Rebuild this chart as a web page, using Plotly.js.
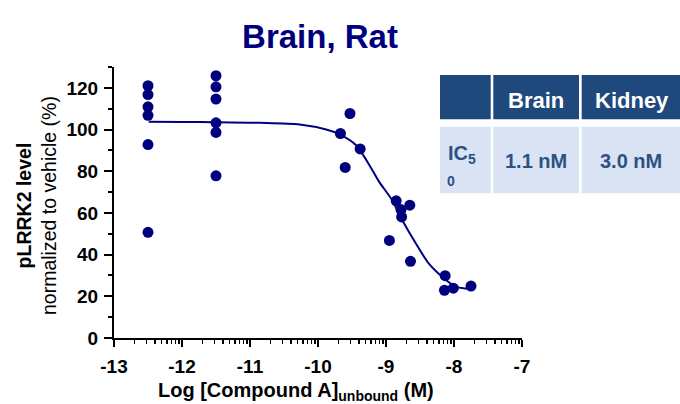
<!DOCTYPE html>
<html>
<head>
<meta charset="utf-8">
<script src="https://cdn.plot.ly/plotly-3.0.1.min.js"></script>
<style>html,body{margin:0;padding:0;background:#fff;} #chart{width:680px;height:404px;}</style>
</head>
<body>
<div id="chart"></div>
<script>
// ---- data ----
const doseX = [-12.5,-12.5,-12.5,-12.5,-12.5,-12.5,
               -11.5,-11.5,-11.5,-11.5,-11.5,-11.5,
               -9.53,-9.67,-9.38,-9.60,
               -8.85,-8.65,-8.78,-8.77,-8.95,-8.64,
               -8.13,-8.14,-8.01,-7.75];
const respY = [121.0,116.8,110.9,106.8,92.8,50.7,
               125.8,120.5,114.6,103.2,98.6,77.8,
               107.7,98.1,90.7,81.8,
               65.8,63.7,61.6,58.1,46.8,36.8,
               29.9,22.9,23.9,24.9];
const curveX = [-12.49,-12.0,-11.5,-10.86,-10.27,-9.88,-9.69,-9.44,-9.20,-9.10,-8.91,-8.76,-8.56,-8.37,-8.17,-7.97,-7.83,-7.75];
const curveY = [103.7,103.6,103.5,103.2,102.4,100.0,97.8,92.5,80.5,74.9,66.1,56.5,45.3,35.7,29.3,24.5,23.7,23.4];
const xTickVals = [-13,-12,-11,-10,-9,-8,-7];
const xTickText = ["-13","-12","-11","-10","-9","-8","-7"];
const yTickVals = [0,20,40,60,80,100,120];
const yTickText = ["0","20","40","60","80","100","120"];
const tableHeader = ["", "Brain", "Kidney"];
const tableRowLabel = "IC";
const tableValues = ["1.1 nM", "3.0 nM"];

// minor log ticks for x axis (tick positions only)
const xMinor = [];
for (let d = -13; d < -7; d++) { for (let k = 2; k <= 9; k++) xMinor.push(d + Math.log10(k)); }

const FONT = "Liberation Sans, Arial, sans-serif";
const NAVY = "#00007f";
const HDR = "#1f497d";
const BODY = "#dae3f3";
const BODYTXT = "#2c5282";

// plot area geometry (pixels)
const L = 114, R = 158, T = 67, B = 66, W = 680 - L - R, H = 404 - T - B;
const xp = px => (px - L) / W;
const yp = py => (404 - B - py) / H;

function rect(x0, y0, x1, y1, color) {
  return {type:'rect', xref:'paper', yref:'paper', x0:xp(x0), x1:xp(x1), y0:yp(y1), y1:yp(y0),
          fillcolor:color, line:{width:0}, layer:'above'};
}
function txt(px, py, text, size, color, extra) {
  return Object.assign({xref:'paper', yref:'paper', x:xp(px), y:yp(py), text:text, showarrow:false,
          xanchor:'center', yanchor:'middle', font:{family:FONT, size:size, color:color}}, extra || {});
}

const shapes = [
  rect(440, 75, 490.7, 119.3, HDR),
  rect(493.3, 75, 579, 119.3, HDR),
  rect(581.7, 75, 690, 119.3, HDR),
  rect(440, 126.7, 490.7, 193.3, BODY),
  rect(493.3, 126.7, 579, 193.3, BODY),
  rect(581.7, 126.7, 690, 193.3, BODY)
];

const annotations = [
  txt(536, 100, "<b>" + tableHeader[1] + "</b>", 22, "#ffffff"),
  txt(632, 100, "<b>" + tableHeader[2] + "</b>", 22, "#ffffff"),
  txt(462, 154, "<b>" + tableRowLabel + "<sub>5</sub></b>", 20, BODYTXT),
  txt(451, 181, "<b>0</b>", 14, BODYTXT),
  txt(536, 161, "<b>" + tableValues[0] + "</b>", 20, BODYTXT),
  txt(631, 161, "<b>" + tableValues[1] + "</b>", 20, BODYTXT),
  txt(296, 391, "<b>Log [Compound A]<sub>unbound</sub> (M)</b>", 20, "#000000"),
  txt(37, 206, "<b>pLRRK2 level</b><br>normalized to vehicle (%)", 19.5, "#000000", {textangle:-90})
];

const traces = [
  {x: curveX, y: curveY, type:'scatter', mode:'lines', line:{color:NAVY, width:2, shape:'spline', smoothing:0.8}, hoverinfo:'skip'},
  {x: doseX, y: respY, type:'scatter', mode:'markers', marker:{color:NAVY, size:11}}
];

const layout = {
  width:680, height:404, showlegend:false,
  paper_bgcolor:'#ffffff', plot_bgcolor:'#ffffff',
  margin:{l:L, r:R, t:T, b:B, pad:0},
  font:{family:FONT, color:'#000000'},
  title:{text:"<b>Brain, Rat</b>", font:{family:FONT, size:33, color:NAVY},
         x:xp(320), xref:'paper', xanchor:'center', y:1 - 36/404, yref:'container', yanchor:'middle'},
  xaxis:{range:[-13,-7], showgrid:false, zeroline:false, showline:true, linecolor:'#000', linewidth:2,
         ticks:'outside', ticklen:7, tickwidth:2, tickcolor:'#000', ticklabelstandoff:3,
         tickmode:'array', tickvals:xTickVals, ticktext:xTickText,
         tickfont:{family:FONT, size:19, color:'#000', weight:'bold'},
         minor:{tickmode:'array', tickvals:xMinor, ticks:'outside', ticklen:4, tickwidth:1.5, tickcolor:'#000', showgrid:false},
         fixedrange:true},
  yaxis:{range:[0,130], showgrid:false, zeroline:false, showline:true, linecolor:'#000', linewidth:2,
         ticks:'outside', ticklen:8, tickwidth:2, tickcolor:'#000', ticklabelstandoff:2,
         tickmode:'array', tickvals:yTickVals, ticktext:yTickText,
         tickfont:{family:FONT, size:19, color:'#000', weight:'bold'},
         minor:{dtick:10, tick0:0, ticks:'outside', ticklen:4, tickwidth:2, tickcolor:'#000', showgrid:false},
         fixedrange:true},
  shapes: shapes,
  annotations: annotations
};

Plotly.newPlot('chart', traces, layout, {displayModeBar:false, staticPlot:true});
</script>
</body>
</html>
